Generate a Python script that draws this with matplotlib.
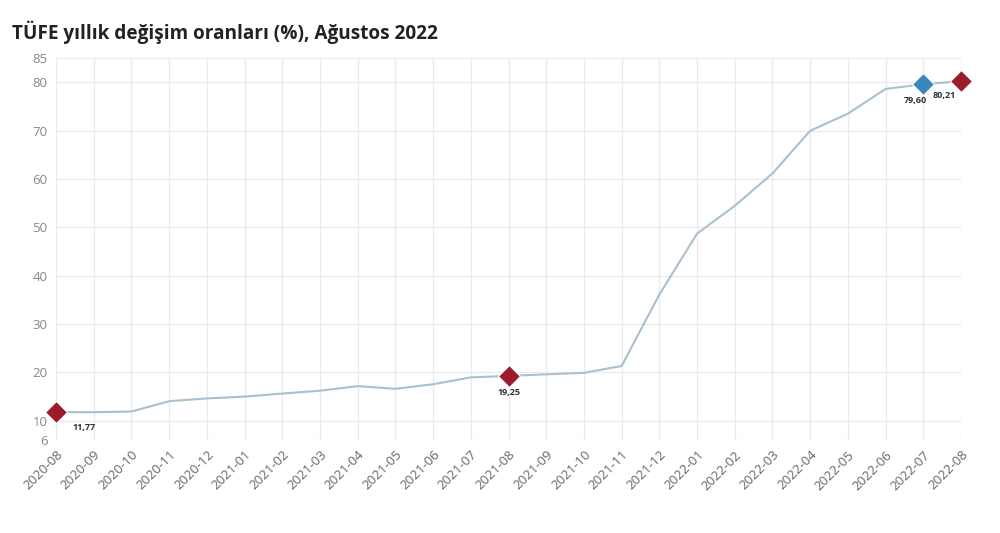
import matplotlib
matplotlib.use("Agg")
import matplotlib.pyplot as plt

plt.rcParams["font.family"] = ["Open Sans", "DejaVu Sans"]

# --- data ---
months = ["2020-08", "2020-09", "2020-10", "2020-11", "2020-12",
          "2021-01", "2021-02", "2021-03", "2021-04", "2021-05", "2021-06",
          "2021-07", "2021-08", "2021-09", "2021-10", "2021-11", "2021-12",
          "2022-01", "2022-02", "2022-03", "2022-04", "2022-05", "2022-06",
          "2022-07", "2022-08"]
tufe = [11.77, 11.75, 11.89, 14.03, 14.60, 14.97, 15.61, 16.19, 17.14, 16.59,
        17.53, 18.95, 19.25, 19.58, 19.89, 21.31, 36.08, 48.69, 54.44, 61.14,
        69.97, 73.50, 78.62, 79.60, 80.21]
y_ticks = [6, 10, 20, 30, 40, 50, 60, 70, 80, 85]

# highlighted points: (month, label, colour, label offset, alignment)
highlights = [("2020-08", "11,77", "#9b1b2b", (12, -11), "left"),
              ("2021-08", "19,25", "#9b1b2b", (0, -12), "center"),
              ("2022-07", "79,60", "#3b86bf", (-6, -12), "center"),
              ("2022-08", "80,21", "#9b1b2b", (-12, -10), "center")]

x = list(range(len(months)))

fig = plt.figure(figsize=(10, 5.33), dpi=100)
ax = fig.add_axes([0.056, 0.1745, 0.905, 0.7165])

ax.plot(x, tufe, color="#a9c0ce", lw=1.5, zorder=2)

for m, lab, col, off, ha in highlights:
    i = months.index(m)
    ax.plot(x[i], tufe[i], marker="D", ms=11, color=col, mec="#ffffff", mew=0.8,
            zorder=4, clip_on=False)
    ax.annotate(lab, (x[i], tufe[i]), xytext=off, textcoords="offset points",
                ha=ha, va="center", fontsize=6.5, fontweight="bold", color="#333333")

ax.set_xlim(0, len(months) - 1)
ax.set_ylim(6, 85)
ax.set_xticks(x)
ax.set_xticklabels(months, rotation=45, ha="right", rotation_mode="anchor",
                   fontsize=9.5, color="#666666")
ax.set_yticks(y_ticks)
ax.set_yticklabels([str(v) for v in y_ticks], fontsize=9.5, color="#888888")
ax.tick_params(length=0, pad=6)
ax.grid(True, color="#ebebeb", lw=1)
ax.set_axisbelow(True)
for s in ax.spines.values():
    s.set_visible(False)

fig.text(0.012, 0.94, "TÜFE yıllık değişim oranları (%), Ağustos 2022",
         fontsize=13.7, fontweight="bold", color="#222222", va="center")

fig.savefig("out.png", dpi=100, facecolor="white")
